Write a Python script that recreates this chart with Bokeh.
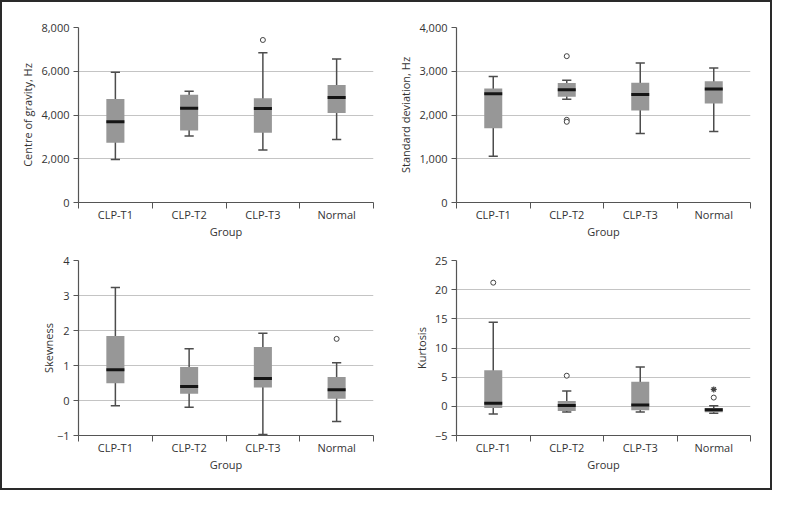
from bokeh.plotting import figure
from bokeh.layouts import column, row
from bokeh.models import FixedTicker, NumeralTickFormatter, Range1d, ColumnDataSource
from bokeh.embed import file_html
from bokeh.resources import INLINE

groups = ["CLP-T1", "CLP-T2", "CLP-T3", "Normal"]

# Centre of gravity, Hz
cog_whi = [5950, 5090, 6850, 6560]
cog_q3 = [4735, 4925, 4765, 5370]
cog_med = [3690, 4310, 4295, 4795]
cog_q1 = [2735, 3295, 3190, 4090]
cog_wlo = [1970, 3045, 2400, 2880]
cog_out_grp = ["CLP-T3"]
cog_out_val = [7430]

# Standard deviation, Hz
sd_whi = [2880, 2795, 3190, 3075]
sd_q3 = [2605, 2730, 2735, 2770]
sd_med = [2485, 2575, 2470, 2595]
sd_q1 = [1700, 2420, 2105, 2265]
sd_wlo = [1060, 2360, 1575, 1625]
sd_out_grp = ["CLP-T2", "CLP-T2", "CLP-T2"]
sd_out_val = [3345, 1890, 1845]

# Skewness
sk_whi = [3.23, 1.48, 1.92, 1.08]
sk_q3 = [1.84, 0.96, 1.53, 0.67]
sk_med = [0.88, 0.40, 0.63, 0.31]
sk_q1 = [0.49, 0.19, 0.37, 0.05]
sk_wlo = [-0.15, -0.19, -0.97, -0.60]
sk_out_grp = ["Normal"]
sk_out_val = [1.76]

# Kurtosis
ku_whi = [14.4, 2.65, 6.75, 0.1]
ku_q3 = [6.2, 0.9, 4.2, -0.3]
ku_med = [0.55, 0.15, 0.25, -0.6]
ku_q1 = [-0.3, -0.8, -0.65, -1.0]
ku_wlo = [-1.3, -0.95, -0.95, -1.2]
ku_out_grp = ["CLP-T1", "CLP-T2", "Normal"]
ku_out_val = [21.2, 5.25, 1.5]
ku_ext_grp = ["Normal"]
ku_ext_val = [2.9]

FONT = "Open Sans"
TXT = "#333333"
AX = "#555555"
BOXW = 0.245
CAPW = 0.125


def make_panel(ylabel, ymin, ymax, ystep, fmt, whi, q3, med, q1, wlo,
               out_g, out_v, ext_g, ext_v, w, h, ml, mr, mt, mb, ylab_standoff):
    p = figure(width=w, height=h, x_range=Range1d(0, 4), y_range=Range1d(ymin, ymax),
               output_backend="svg", toolbar_location=None,
               min_border_left=ml, min_border_right=mr, min_border_top=mt, min_border_bottom=mb)
    p.outline_line_color = None
    p.background_fill_color = "white"
    p.border_fill_color = "white"

    xs = [i + 0.5 for i in range(len(groups))]
    src = ColumnDataSource(dict(x=xs, x0=[x - CAPW / 2 for x in xs], x1=[x + CAPW / 2 for x in xs],
                                whi=whi, q3=q3, med=med, q1=q1, wlo=wlo))
    p.segment(x0="x", x1="x", y0="wlo", y1="whi", source=src, line_color="#4d4d4d", line_width=1.5)
    p.segment(x0="x0", x1="x1", y0="whi", y1="whi", source=src, line_color="#4d4d4d", line_width=1.5)
    p.segment(x0="x0", x1="x1", y0="wlo", y1="wlo", source=src, line_color="#4d4d4d", line_width=1.5)
    p.vbar(x="x", width=BOXW, bottom="q1", top="q3", source=src, fill_color="#979797", line_color=None)
    p.rect(x="x", y="med", width=BOXW, height=3, height_units="screen", source=src,
           fill_color="#151515", line_color=None)

    if out_g:
        p.scatter(x=[groups.index(g) + 0.5 for g in out_g], y=out_v, marker="circle", size=5,
                  fill_color="white", line_color="#444444", line_width=1)
    if ext_g:
        p.scatter(x=[groups.index(g) + 0.5 for g in ext_g], y=ext_v, marker="asterisk", size=6,
                  line_color="#444444", line_width=1.2)

    # x axis
    xa = p.xaxis[0]
    xa.ticker = FixedTicker(ticks=xs, minor_ticks=[0, 1, 2, 3, 4])
    xa.major_label_overrides = {x: g for x, g in zip(xs, groups)}
    xa.major_tick_line_color = None
    xa.major_tick_out = 0
    xa.major_tick_in = 0
    xa.minor_tick_out = 6
    xa.minor_tick_in = 0
    xa.minor_tick_line_color = AX
    xa.axis_line_color = AX
    xa.axis_label = "Group"
    xa.major_label_standoff = -2
    xa.axis_label_standoff = -1

    ya = p.yaxis[0]
    yt = list(range(ymin, ymax + 1, ystep))
    ya.ticker = FixedTicker(ticks=yt)
    ya.formatter = NumeralTickFormatter(format=fmt)
    ya.major_label_overrides = {v: "\u2212" + f"{-v:,}" for v in yt if v < 0}
    ya.minor_tick_line_color = None
    ya.major_tick_out = 5
    ya.major_tick_in = 0
    ya.major_tick_line_color = AX
    ya.axis_line_color = AX
    ya.axis_label = ylabel
    ya.major_label_standoff = 4
    ya.axis_label_standoff = ylab_standoff

    for a in (xa, ya):
        a.major_label_text_font = FONT
        a.major_label_text_font_size = "11px"
        a.major_label_text_color = TXT
        a.axis_label_text_font = FONT
        a.axis_label_text_font_size = "11px"
        a.axis_label_text_color = TXT
        a.axis_label_text_font_style = "normal"
        a.axis_line_width = 1.2

    p.xgrid.visible = False
    p.ygrid.ticker = FixedTicker(ticks=yt)
    p.ygrid.grid_line_color = "#c4c4c4"
    p.ygrid.grid_line_width = 1.2
    return p


W = 384
p1 = make_panel("Centre of gravity, Hz", 0, 8000, 2000, "0,0",
                cog_whi, cog_q3, cog_med, cog_q1, cog_wlo, cog_out_grp, cog_out_val, None, None,
                W, 243, 76, 13, 25, 43, 3)
p2 = make_panel("Standard deviation, Hz", 0, 4000, 1000, "0,0",
                sd_whi, sd_q3, sd_med, sd_q1, sd_wlo, sd_out_grp, sd_out_val, None, None,
                W, 243, 70, 20, 25, 43, 3)
p3 = make_panel("Skewness", -1, 4, 1, "0",
                sk_whi, sk_q3, sk_med, sk_q1, sk_wlo, sk_out_grp, sk_out_val, None, None,
                W, 243, 76, 13, 15, 53, -2)
p4 = make_panel("Kurtosis", -5, 25, 5, "0",
                ku_whi, ku_q3, ku_med, ku_q1, ku_wlo, ku_out_grp, ku_out_val, ku_ext_grp, ku_ext_val,
                W, 243, 70, 20, 15, 53, 3)

layout = column(row(p1, p2), row(p3, p4), styles={"border": "2px solid #2a2a2a"})

open("out.html", "w").write(file_html(layout, INLINE))
